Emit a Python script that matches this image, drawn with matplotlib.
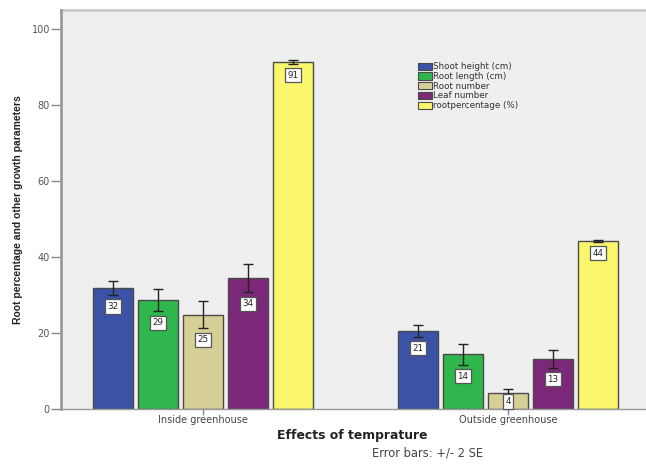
import matplotlib
matplotlib.use("Agg")
import matplotlib.pyplot as plt
from matplotlib.patches import Patch
import numpy as np

plt.rcParams['font.family'] = ['DejaVu Sans']

groups = ["Inside greenhouse", "Outside greenhouse"]
series = ["Shoot height (cm)", "Root length (cm)", "Root number",
          "Leaf number", "rootpercentage (%)"]

shoot_height = [31.9, 20.6]
root_length = [28.7, 14.4]
root_number = [24.8, 4.3]
leaf_number = [34.4, 13.1]
root_percentage = [91.3, 44.3]

shoot_height_err = [1.9, 1.6]
root_length_err = [3.0, 2.8]
root_number_err = [3.6, 1.0]
leaf_number_err = [3.7, 2.3]
root_percentage_err = [0.5, 0.3]

values = [shoot_height, root_length, root_number, leaf_number, root_percentage]
errors = [shoot_height_err, root_length_err, root_number_err,
          leaf_number_err, root_percentage_err]
colors = ["#3a53a6", "#2fb64c", "#d6d096", "#7b2878", "#fbf76c"]

fig = plt.figure(figsize=(6.46, 4.65), dpi=100)
ax = fig.add_axes([61 / 646, 56 / 465, 1 - 61 / 646, (409 - 10) / 465])
ax.set_facecolor("#efefef")

x = np.arange(len(groups))
step = 0.1475
width = 0.134
for i, (vals, errs, col) in enumerate(zip(values, errors, colors)):
    pos = x + (i - 2) * step
    ax.bar(pos, vals, width=width, color=col, edgecolor="#4a4a4a",
           linewidth=1.0, zorder=2)
    ax.errorbar(pos, vals, yerr=errs, fmt="none", ecolor="#222222",
                elinewidth=1.0, capsize=3.5, capthick=1.0, zorder=3)
    for p, v, e in zip(pos, vals, errs):
        ly = max(v - e - 3.0, 2.0)
        ax.text(p, ly, f"{v:.0f}", ha="center", va="center", fontsize=6.3,
                color="#222222", zorder=4,
                bbox=dict(boxstyle="square,pad=0.3", fc="white",
                          ec="#555555", lw=0.9))

ax.set_xlim(-142 / 305, 1 + 138 / 305)
ax.set_ylim(0, 100 + 19 / 3.8)
ax.set_yticks([0, 20, 40, 60, 80, 100])
ax.set_xticks(x)
ax.set_xticklabels(groups)
ax.tick_params(axis="y", direction="out", length=7, width=1, color="#888888",
               labelsize=7, labelcolor="#555555", pad=1)
ax.tick_params(axis="x", direction="out", length=4, width=1, color="#888888",
               labelsize=7, labelcolor="#444444", pad=0.5)

for side in ["top", "right"]:
    ax.spines[side].set_visible(False)
ax.spines["left"].set_color("#999999")
ax.spines["left"].set_linewidth(2)
ax.spines["bottom"].set_color("#999999")
ax.spines["bottom"].set_linewidth(1)

# thin top frame line above the plotting area
ax.axhline(ax.get_ylim()[1], color="#cccccc", lw=2, clip_on=False)

ax.set_ylabel("Root percentage and other growth parameters", fontsize=7.5,
              fontweight="bold", color="#222222", labelpad=6,
              family="Liberation Sans")
fig.text(352 / 646, 1 - 435 / 465, "Effects of temprature", ha="center",
         va="center", fontsize=8.9, fontweight="bold", color="#222222")
fig.text(428 / 646, 1 - 453 / 465, "Error bars: +/- 2 SE", ha="center",
         va="center", fontsize=8.3, color="#444444")

handles = [Patch(facecolor=c, edgecolor="#4a4a4a", linewidth=0.8)
           for c in colors]
ax.legend(handles, series, loc="upper left",
          bbox_to_anchor=(414 / 646, 1 - 58 / 465), bbox_transform=fig.transFigure,
          frameon=False, fontsize=6.3, handlelength=1.5, handleheight=0.9,
          handletextpad=0.2, labelspacing=0.08, borderpad=0,
          labelcolor="#333333")

fig.savefig("out.png", dpi=100)
